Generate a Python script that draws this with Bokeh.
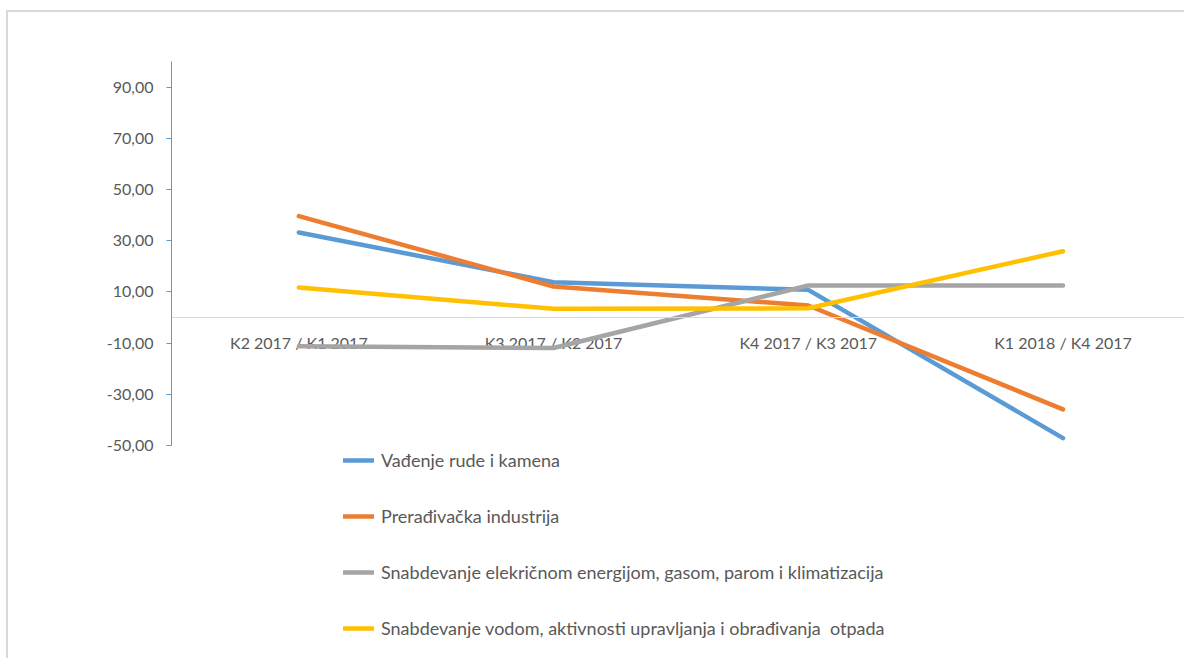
from bokeh.plotting import figure
from bokeh.models import Range1d, FixedTicker, Span, Legend, LegendItem
from bokeh.core.properties import value
from bokeh.embed import file_html
from bokeh.resources import INLINE

categories = ["K2 2017 / K1 2017", "K3 2017 / K2 2017", "K4 2017 / K3 2017", "K1 2018 / K4 2017"]
series_names = [
    "Vađenje rude i kamena",
    "Prerađivačka industrija",
    "Snabdevanje elekričnom energijom, gasom, parom i klimatizacija",
    "Snabdevanje vodom, aktivnosti upravljanja i obrađivanja  otpada",
]
vadjenje = [33.2, 13.8, 10.8, -47.1]
preradjivacka = [39.6, 12.1, 4.7, -35.9]
elektricna = [-11.2, -11.9, 12.5, 12.5]
voda = [11.7, 3.4, 3.6, 25.9]
colors = ["#5b9bd5", "#ed7d31", "#a5a5a5", "#ffc000"]
y_ticks = [-50, -30, -10, 10, 30, 50, 70, 90]
y_axis_min, y_axis_max = -50, 100

FONT = "Lato"
TXT = "#595959"

x_idx = list(range(len(categories)))

# frame spans from the top of the value axis down to the bottom of the canvas,
# so the legend can sit below the axis; the axis line itself is bounded to -50..100
p = figure(frame_width=1013, frame_height=597, output_backend="svg", toolbar_location=None,
           x_axis_type=None, x_range=Range1d(-0.5, 3.477), y_range=Range1d(-133.2, 100),
           min_border_left=163, min_border_top=49, min_border_right=0, min_border_bottom=0)
p.styles = {"margin-left": "6px", "margin-top": "10px",
            "border-left": "2px solid #d9d9d9", "border-top": "2px solid #d9d9d9"}
p.outline_line_color = None
p.grid.visible = False
p.background_fill_color = "white"
p.border_fill_color = "white"

yax = p.yaxis[0]
yax.bounds = (y_axis_min, y_axis_max)
yax.ticker = FixedTicker(ticks=y_ticks)
yax.major_label_overrides = {t: f"{t:.2f}".replace(".", ",") for t in y_ticks}
yax.axis_line_color = "#5b9bd5"
yax.major_tick_line_color = "#5b9bd5"
yax.major_tick_out = 5
yax.major_tick_in = 0
yax.minor_tick_line_color = None
yax.major_label_text_font = FONT
yax.major_label_text_font_size = "16px"
yax.major_label_text_color = TXT
yax.major_label_standoff = 13

p.add_layout(Span(location=0, dimension="width", line_color="#d9d9d9", line_width=1))

p.text(x=x_idx, y=[0] * len(categories), text=categories, y_offset=25,
       text_align="center", text_baseline="middle",
       text_font=value(FONT), text_font_size="16px", text_color=TXT)

renderers = []
for vals, c in zip([vadjenje, preradjivacka, elektricna, voda], colors):
    r = p.line(x_idx, vals, line_color=c, line_width=4.5, line_cap="round", line_join="round")
    renderers.append(r)

legend = Legend(items=[LegendItem(label=n, renderers=[r]) for n, r in zip(series_names, renderers)],
                location=(172, 19), orientation="vertical",
                glyph_width=31, glyph_height=20, label_height=20, spacing=34,
                padding=0, margin=0, border_line_color=None, background_fill_alpha=0,
                label_text_font=FONT, label_text_font_size="18px", label_text_color=TXT,
                label_standoff=7)
p.add_layout(legend)

open("out.html", "w").write(file_html(p, INLINE))
